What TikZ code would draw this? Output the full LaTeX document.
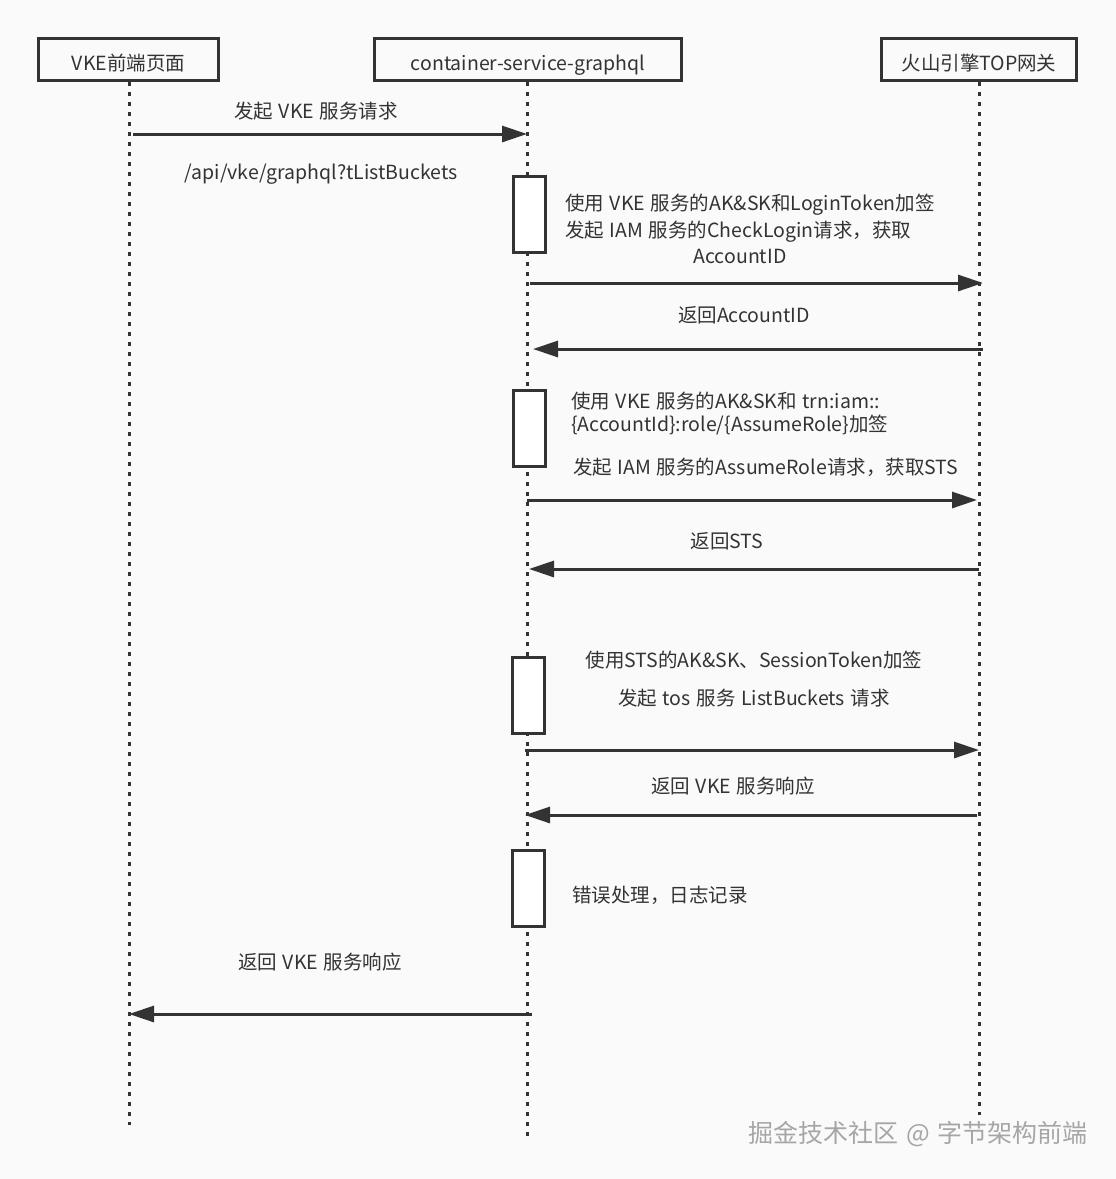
\documentclass[tikz,border=0pt]{standalone}
\usepackage{fontspec}
\setmainfont[WordSpace=1.3]{Noto Sans CJK SC}
\usepackage{tikz}
\usetikzlibrary{arrows.meta}
\usetikzlibrary{positioning}

\definecolor{bgc}{HTML}{FAFAFA}
\definecolor{ink}{HTML}{333333}
\tikzset{
  actor/.style={draw=ink,line width=3pt,fill=bgc,minimum height=42pt,inner sep=0pt,text height=21pt,text depth=0pt,text=ink,font=\fontsize{19.5}{22}\selectfont},
  life/.style={draw=ink,line width=3pt,dash pattern=on 4pt off 6pt},
  act/.style={draw=ink,line width=3pt,fill=white,minimum width=32pt,minimum height=76pt,inner sep=0pt},
  msg/.style={draw=ink,line width=3pt,-{Triangle[length=25pt,width=16pt]}},
  lbl/.style={text=ink,inner sep=0pt,font=\fontsize{19.5}{22}\selectfont},
}

\begin{document}
\begin{tikzpicture}[x=1pt,y=-1pt]
  \fill[bgc] (0,0) rectangle (1116,1179);
  \useasboundingbox (0,0) rectangle (1116,1179);

  % participants
  \node[actor,minimum width=180pt] (fe)  at (128.5,59.5) {VKE前端页面};
  \node[actor,minimum width=307pt] (gql) at (528,59.5)   {container-service-graphql};
  \node[actor,minimum width=195pt] (top) at (979,59.5)   {火山引擎TOP网关};
  \coordinate (fe-end)  at (129,1125);
  \coordinate (gql-end) at (527,1136);
  \coordinate (top-end) at (979,1115);
  \draw[life] (fe.south -| fe-end) -- (fe-end);
  \draw[life] (gql.south -| gql-end) -- (gql-end);
  \draw[life] (top.south -| top-end) -- (top-end);

  % activations
  \node[act] (act1) at (529.5,214.5) {};
  \node[act] (act2) at (529.5,428.5) {};
  \node[act] (act3) at (528,695.5) {};
  \node[act] (act4) at (528,888.5) {};

  % request from front end
  \node[lbl] (req) at (316,111) {发起 VKE 服务请求};
  \node[lbl] (api) at (321,174) {/api/vke/graphql?tListBuckets};
  \draw[msg] ([xshift=4pt]fe-end |- 0,134) -- (gql-end |- 0,134);

  % check login
  \node[lbl,anchor=west] (sign1) at (565,205) {使用 VKE 服务的AK\&SK和LoginToken加签};
  \node[lbl,anchor=west] (chk) at (565,232) {发起 IAM 服务的CheckLogin请求，获取};
  \node[lbl] (accid) at (740,256) {AccountID};
  \draw[msg] ([xshift=3pt]gql-end |- 0,283) -- ([xshift=4pt]top-end |- 0,283);
  \node[lbl] (ret1) at (744,315) {返回AccountID};
  \draw[msg] ([xshift=4pt]top-end |- 0,349) -- ([xshift=6pt]gql-end |- 0,349);

  % assume role
  \node[lbl,anchor=west] (sign2) at (571,401) {使用 VKE 服务的AK\&SK和 trn:iam::};
  \node[lbl,anchor=west] (role) at (571,425) {\{AccountId\}:role/\{AssumeRole\}加签};
  \node[lbl,anchor=west] (asm) at (573,467) {发起 IAM 服务的AssumeRole请求，获取STS};
  \draw[msg] (gql-end |- 0,500) -- ([xshift=-2pt]top-end |- 0,500);
  \node[lbl] (ret2) at (727,541) {返回STS};
  \draw[msg] (top-end |- 0,569) -- ([xshift=2pt]gql-end |- 0,569);

  % list buckets
  \node[lbl] (sign3) at (754,660) {使用STS的AK\&SK、SessionToken加签};
  \node[lbl] (tos) at (754,698) {发起 tos 服务 ListBuckets 请求};
  \draw[msg] ([xshift=-2pt]gql-end |- 0,750) -- (top-end |- 0,750);
  \node[lbl] (ret3) at (733,786) {返回 VKE 服务响应};
  \draw[msg] ([xshift=-2pt]top-end |- 0,815) -- ([xshift=-2pt]gql-end |- 0,815);

  % error handling and reply
  \node[lbl,anchor=west] (err) at (572,895) {错误处理，日志记录};
  \node[lbl] (ret4) at (320,962) {返回 VKE 服务响应};
  \draw[msg] ([xshift=5pt]gql-end |- 0,1014) -- (fe-end |- 0,1014);

  \node[text=black!35,inner sep=0pt,font=\fontsize{25}{28}\selectfont] (mark) at (918,1134) {掘金技术社区 @ 字节架构前端};
\end{tikzpicture}
\end{document}
